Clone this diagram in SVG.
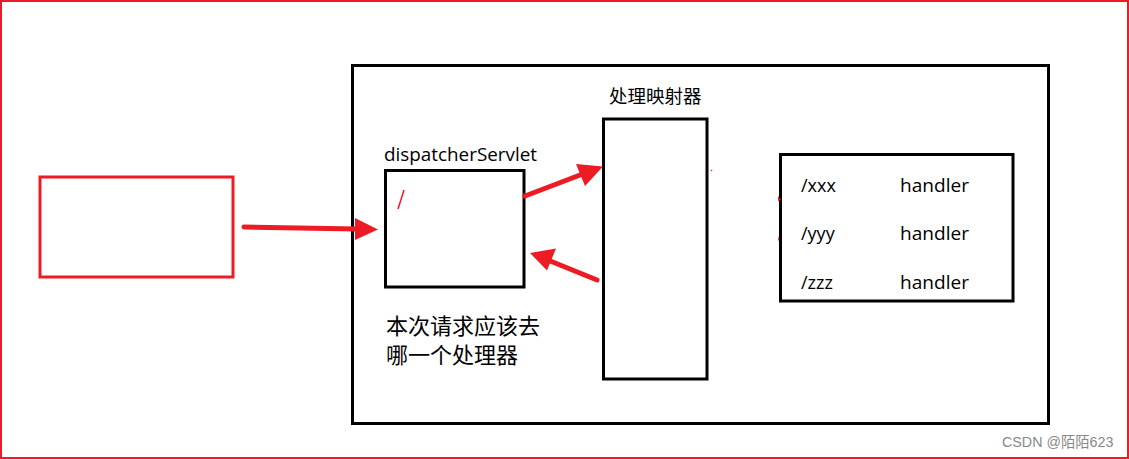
<svg xmlns="http://www.w3.org/2000/svg" width="1129" height="459" viewBox="0 0 1129 459">
  <defs>
    <style>
      .box { fill: #ffffff; stroke: #000000; stroke-width: 3; }
      .redbox { fill: #ffffff; stroke: #ed1c24; stroke-width: 3; }
      .lbl { font-family: "Open Sans", "Noto Sans", "Noto Sans CJK SC", sans-serif; fill: #000000; }
      .cjk { font-family: "Noto Sans CJK SC", "Noto Sans", sans-serif; fill: #000000; }
      .arrow { stroke: #ed1c24; stroke-width: 5; stroke-linecap: round; fill: none; }
      .head { fill: #ed1c24; }
    </style>
  </defs>
  <rect x="0" y="0" width="1129" height="459" fill="#ffffff"/>
  <rect x="1" y="1" width="1127" height="457" fill="none" stroke="#ed1c24" stroke-width="2"/>

  <g id="client">
    <rect class="redbox" x="40" y="177" width="193" height="100"/>
  </g>

  <g id="container">
    <rect class="box" x="352.5" y="65.5" width="696" height="358"/>
  </g>

  <g id="dispatcherServlet">
    <text class="lbl" x="384" y="161" font-size="18" textLength="153" lengthAdjust="spacingAndGlyphs">dispatcherServlet</text>
    <rect class="box" x="385.5" y="170.5" width="138.5" height="116.5"/>
    <path d="M404 190 L398 209" stroke="#ed1c24" stroke-width="1.5" fill="none"/>
  </g>

  <g id="note">
    <text class="cjk" x="386" y="334" font-size="22">本次请求应该去</text>
    <text class="cjk" x="386" y="363" font-size="22">哪一个处理器</text>
  </g>

  <g id="handlerMapping">
    <text class="cjk" x="609" y="103" font-size="18.5">处理映射器</text>
    <rect class="box" x="603.5" y="119" width="103.5" height="260"/>
    <circle cx="711.5" cy="170.5" r="0.8" fill="#ed1c24"/>
  </g>

  <g id="handlerTable">
    <rect class="box" x="780.5" y="154.5" width="232.5" height="146.5"/>
    <text class="lbl" x="801" y="192" font-size="18">/xxx</text>
    <text class="lbl" x="900" y="192" font-size="18" textLength="69" lengthAdjust="spacingAndGlyphs">handler</text>
    <text class="lbl" x="801" y="240" font-size="18">/yyy</text>
    <text class="lbl" x="900" y="240" font-size="18" textLength="69" lengthAdjust="spacingAndGlyphs">handler</text>
    <text class="lbl" x="801" y="289" font-size="18">/zzz</text>
    <text class="lbl" x="900" y="289" font-size="18" textLength="69" lengthAdjust="spacingAndGlyphs">handler</text>
    <path d="M778 196 L781 200 L778 201 Z" fill="#ed1c24"/>
    <path d="M778 235 L779 240 L778 241 Z" fill="#ed1c24"/>
  </g>

  <g id="connectors">
    <line class="arrow" x1="244" y1="227" x2="358" y2="229"/>
    <polygon class="head" points="378,229.5 355,218 355,240"/>
    <line class="arrow" x1="525" y1="196" x2="584" y2="173.5"/>
    <polygon class="head" points="603,166.5 576,164 585,186"/>
    <line class="arrow" x1="597" y1="280" x2="549" y2="260.5"/>
    <polygon class="head" points="530,253 556,248.5 547,270.5"/>
  </g>

  <text x="1002" y="447" font-family="'Liberation Sans', 'Noto Sans CJK SC', sans-serif" font-size="14.3" fill="#888888">CSDN @陌陌623</text>
</svg>
